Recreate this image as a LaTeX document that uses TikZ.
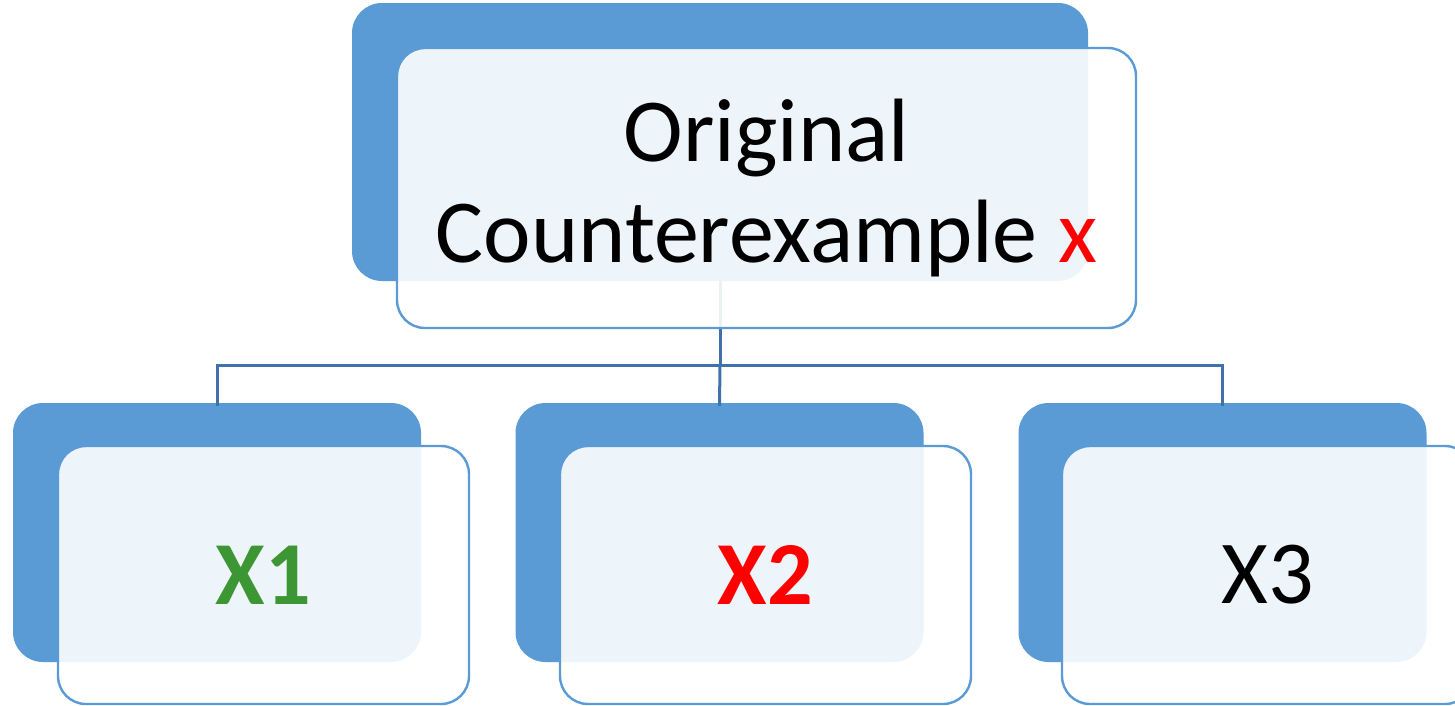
\documentclass[tikz,border=0pt]{standalone}
\usepackage{fontspec}
\setmainfont{Carlito}
\definecolor{accent}{RGB}{91,155,213}
\definecolor{connc}{RGB}{65,113,170}
\definecolor{xgreen}{RGB}{61,150,52}
\definecolor{xred}{RGB}{255,0,0}
\tikzset{
  backbox/.style={rectangle, rounded corners=30pt, fill=accent, draw=none, inner sep=0pt},
  frontbox/.style={rectangle, rounded corners=28pt, fill=white, fill opacity=0.9, text opacity=1, draw=accent, line width=2.4pt, inner sep=0pt, align=center, font=\fontsize{90}{101}\selectfont},
  conn/.style={draw=connc, line width=3pt}
}
\begin{document}
\begin{tikzpicture}[x=1pt,y=-1pt]
\useasboundingbox (0,0) rectangle (1455,705);
\fill[white] (0,0) rectangle (1455,705);
\clip (0,0) rectangle (1455,705);
% back boxes
\node[backbox, minimum width=736pt, minimum height=278pt] (tback) at (720,142) {};
\node[backbox, minimum width=408pt, minimum height=259pt] (b1back) at (217,532.5) {};
\node[backbox, minimum width=408pt, minimum height=259pt] (b2back) at (719.5,532.5) {};
\node[backbox, minimum width=408pt, minimum height=259pt] (b3back) at (1222.5,532.5) {};
% connectors
\draw[conn] (tback.south) -- ++(0,84) coordinate (hub);
\draw[conn] ([yshift=-3pt]b1back.north) |- (hub);
\draw[conn] (hub) -- ([yshift=-3pt]b2back.north);
\draw[conn] (hub) -| ([yshift=-3pt]b3back.north);
% front boxes
\node[frontbox, minimum width=739pt, minimum height=280pt] (top) at (766.5,188) {Original\\Counterexample {\color{xred}x}};
\node[frontbox, minimum width=411pt, minimum height=258pt] (x1) at (263.5,575) {\textbf{\color{xgreen}X1}};
\node[frontbox, minimum width=411pt, minimum height=258pt] (x2) at (765.5,575) {\textbf{\color{xred}X2}};
\node[frontbox, minimum width=411pt, minimum height=258pt] (x3) at (1267.5,575) {X3};
\end{tikzpicture}
\end{document}
